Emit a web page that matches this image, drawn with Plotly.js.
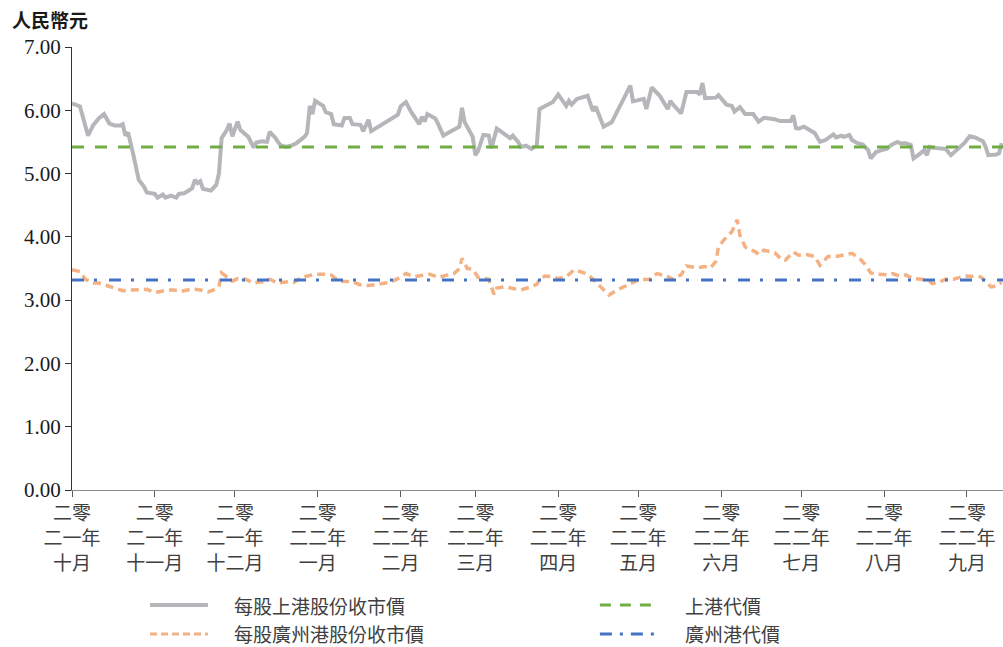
<!DOCTYPE html>
<html>
<head>
<meta charset="utf-8">
<script src="https://cdn.plot.ly/plotly-3.0.1.min.js"></script>
<style>html,body{margin:0;padding:0;background:#fff;}#chart{width:1003px;height:647px;}</style>
</head>
<body>
<div id="chart"></div>
<script>
// ---------- DATA ----------
const seriesNames = ['每股上港股份收市價', '每股廣州港股份收市價', '上港代價', '廣州港代價'];
const yAxisUnit = '人民幣元';

const sipgDates = ['2021-10-01','2021-10-04','2021-10-07','2021-10-09','2021-10-11','2021-10-13','2021-10-15','2021-10-17','2021-10-19','2021-10-20','2021-10-21','2021-10-22','2021-10-24','2021-10-26','2021-10-28','2021-10-29',
'2021-11-01','2021-11-02','2021-11-04','2021-11-05','2021-11-07','2021-11-09','2021-11-10','2021-11-12','2021-11-14','2021-11-15','2021-11-16','2021-11-17','2021-11-18','2021-11-19','2021-11-22','2021-11-24','2021-11-25','2021-11-26','2021-11-28','2021-11-29','2021-11-30',
'2021-12-02','2021-12-03','2021-12-06','2021-12-08','2021-12-09','2021-12-11','2021-12-13','2021-12-14','2021-12-16','2021-12-18','2021-12-20','2021-12-22','2021-12-24','2021-12-27','2021-12-28','2021-12-29','2021-12-30','2021-12-31',
'2022-01-03','2022-01-04','2022-01-06','2022-01-07','2022-01-10','2022-01-11','2022-01-13','2022-01-14','2022-01-17','2022-01-18','2022-01-20','2022-01-21','2022-01-25','2022-01-31',
'2022-02-01','2022-02-03','2022-02-05','2022-02-08','2022-02-09','2022-02-10','2022-02-11','2022-02-14','2022-02-15','2022-02-17','2022-02-19','2022-02-22','2022-02-23','2022-02-24','2022-02-25','2022-02-28',
'2022-03-01','2022-03-02','2022-03-04','2022-03-06','2022-03-07','2022-03-09','2022-03-12','2022-03-14','2022-03-15','2022-03-17','2022-03-18','2022-03-20','2022-03-22','2022-03-24','2022-03-25','2022-03-30',
'2022-04-01','2022-04-03','2022-04-04','2022-04-05','2022-04-06','2022-04-08','2022-04-12','2022-04-14','2022-04-15','2022-04-18','2022-04-21','2022-04-28','2022-04-29',
'2022-05-03','2022-05-04','2022-05-06','2022-05-09','2022-05-12','2022-05-13','2022-05-14','2022-05-17','2022-05-19','2022-05-23','2022-05-24','2022-05-25','2022-05-26','2022-05-30','2022-05-31',
'2022-06-03','2022-06-05','2022-06-06','2022-06-08','2022-06-10','2022-06-13','2022-06-15','2022-06-17','2022-06-20','2022-06-21','2022-06-23','2022-06-27','2022-06-28','2022-06-29','2022-06-30',
'2022-07-02','2022-07-06','2022-07-08','2022-07-10','2022-07-13','2022-07-14','2022-07-16','2022-07-17','2022-07-19','2022-07-20','2022-07-22','2022-07-24','2022-07-26','2022-07-27','2022-07-29','2022-07-31',
'2022-08-02','2022-08-04','2022-08-06','2022-08-07','2022-08-09','2022-08-11','2022-08-12','2022-08-14','2022-08-16','2022-08-17','2022-08-18','2022-08-19','2022-08-21','2022-08-24','2022-08-26','2022-08-28','2022-08-31',
'2022-09-02','2022-09-04','2022-09-07','2022-09-08','2022-09-09','2022-09-12','2022-09-13','2022-09-14'];
const sipgClose = [6.11,6.06,5.60,5.77,5.87,5.94,5.79,5.76,5.76,5.78,5.60,5.65,5.29,4.90,4.79,4.70,
4.68,4.62,4.67,4.62,4.65,4.62,4.68,4.69,4.74,4.77,4.90,4.85,4.88,4.76,4.73,4.82,5.00,5.56,5.69,5.79,5.59,
5.82,5.69,5.58,5.41,5.49,5.51,5.50,5.66,5.57,5.45,5.42,5.44,5.48,5.58,5.64,6.07,5.94,6.15,
6.07,5.97,5.94,5.78,5.76,5.88,5.88,5.78,5.77,5.67,5.85,5.67,5.78,5.93,
6.06,6.13,5.97,5.78,5.90,5.82,5.94,5.87,5.79,5.60,5.65,5.71,5.74,6.04,5.81,5.58,
5.29,5.36,5.61,5.60,5.40,5.71,5.62,5.56,5.60,5.50,5.42,5.44,5.39,5.45,6.02,6.13,
6.25,6.14,6.07,6.15,6.09,6.18,6.23,5.99,6.06,5.74,5.81,6.39,6.14,
6.18,6.02,6.36,6.23,6.02,6.15,6.09,5.95,6.29,6.29,6.25,6.43,6.19,6.20,6.24,
6.09,6.07,5.98,6.05,5.94,5.94,5.82,5.88,5.87,5.86,5.83,5.83,5.92,5.72,5.71,
5.74,5.64,5.50,5.53,5.62,5.57,5.60,5.58,5.61,5.53,5.48,5.46,5.37,5.24,5.34,5.37,
5.39,5.46,5.50,5.48,5.48,5.45,5.24,5.30,5.37,5.29,5.42,5.41,5.40,5.39,5.29,5.36,5.48,
5.59,5.57,5.51,5.42,5.29,5.30,5.32,5.48];

const gzpDates = ['2021-10-01','2021-10-04','2021-10-06','2021-10-09','2021-10-11','2021-10-14','2021-10-17','2021-10-20','2021-10-23','2021-10-26','2021-10-29',
'2021-11-01','2021-11-03','2021-11-06','2021-11-08','2021-11-11','2021-11-13','2021-11-16','2021-11-18','2021-11-21','2021-11-24','2021-11-25','2021-11-26','2021-11-28','2021-11-30',
'2021-12-02','2021-12-05','2021-12-08','2021-12-11','2021-12-14','2021-12-17','2021-12-21','2021-12-23','2021-12-26','2021-12-28','2021-12-31',
'2022-01-03','2022-01-06','2022-01-08','2022-01-10','2022-01-14','2022-01-17','2022-01-20','2022-01-24','2022-01-28','2022-01-31',
'2022-02-03','2022-02-06','2022-02-09','2022-02-12','2022-02-15','2022-02-19','2022-02-21','2022-02-23','2022-02-24','2022-02-26','2022-02-28',
'2022-03-02','2022-03-06','2022-03-08','2022-03-09','2022-03-12','2022-03-15','2022-03-18','2022-03-21','2022-03-24','2022-03-25','2022-03-27','2022-03-30',
'2022-04-01','2022-04-04','2022-04-07','2022-04-10','2022-04-12','2022-04-15','2022-04-18','2022-04-20','2022-04-23','2022-04-27',
'2022-05-01','2022-05-05','2022-05-08','2022-05-12','2022-05-14','2022-05-17','2022-05-19','2022-05-23','2022-05-26','2022-05-28','2022-05-30','2022-05-31',
'2022-06-02','2022-06-05','2022-06-07','2022-06-08','2022-06-10','2022-06-14','2022-06-15','2022-06-17','2022-06-20','2022-06-21','2022-06-24','2022-06-25','2022-06-28','2022-06-30',
'2022-07-03','2022-07-06','2022-07-08','2022-07-11','2022-07-14','2022-07-17','2022-07-20','2022-07-23','2022-07-25','2022-07-27','2022-07-29',
'2022-08-02','2022-08-04','2022-08-07','2022-08-09','2022-08-12','2022-08-15','2022-08-18','2022-08-19','2022-08-22','2022-08-24','2022-08-27','2022-08-30',
'2022-09-01','2022-09-06','2022-09-08','2022-09-10','2022-09-12','2022-09-14'];
const gzpClose = [3.48,3.45,3.33,3.27,3.27,3.23,3.20,3.15,3.16,3.16,3.17,
3.12,3.14,3.16,3.16,3.14,3.16,3.17,3.16,3.13,3.18,3.21,3.43,3.37,3.30,
3.34,3.33,3.27,3.29,3.33,3.27,3.29,3.28,3.36,3.38,3.41,
3.41,3.40,3.33,3.30,3.29,3.24,3.23,3.25,3.28,3.34,
3.42,3.37,3.39,3.41,3.36,3.40,3.42,3.50,3.66,3.50,3.49,
3.36,3.33,3.09,3.19,3.21,3.18,3.16,3.20,3.25,3.33,3.38,3.37,
3.34,3.37,3.48,3.44,3.41,3.29,3.16,3.08,3.16,3.24,
3.32,3.33,3.42,3.37,3.33,3.40,3.54,3.51,3.53,3.51,3.61,3.84,
3.95,4.08,4.27,4.03,3.84,3.76,3.72,3.79,3.77,3.75,3.63,3.63,3.76,3.71,
3.72,3.69,3.55,3.69,3.69,3.71,3.74,3.65,3.56,3.43,3.41,
3.40,3.42,3.38,3.40,3.34,3.33,3.30,3.26,3.29,3.33,3.33,3.37,
3.38,3.37,3.30,3.21,3.22,3.28];

const sipgOffer = 5.42;
const gzpOffer = 3.32;
const periodStart = '2021-10-01';
const periodEnd = '2022-09-14 12:00';

const monthTicks = ['2021-10-01','2021-11-01','2021-12-01','2022-01-01','2022-02-01','2022-03-01','2022-04-01','2022-05-01','2022-06-01','2022-07-01','2022-08-01','2022-09-01'];
const monthLabels = ['二零<br>二一年<br>十月','二零<br>二一年<br>十一月','二零<br>二一年<br>十二月','二零<br>二二年<br>一月','二零<br>二二年<br>二月','二零<br>二二年<br>三月','二零<br>二二年<br>四月','二零<br>二二年<br>五月','二零<br>二二年<br>六月','二零<br>二二年<br>七月','二零<br>二二年<br>八月','二零<br>二二年<br>九月'];
const yTicks = [0,1,2,3,4,5,6,7];

// ---------- STYLE ----------
const C_GREY = '#b4b6b9', C_ORANGE = '#f4b183', C_GREEN = '#70ad47', C_BLUE = '#4472c4';
const DASH_ORANGE = '8px,5px', DASH_GREEN = '12px,11px', DASH_BLUE = '12px,10px,3px,12px';
const SERIF = '"Liberation Serif", "Noto Sans CJK TC", serif';
const CJK = '"Noto Sans CJK TC", "Noto Sans CJK SC", sans-serif';

const traces = [
  {x: sipgDates, y: sipgClose, type: 'scatter', mode: 'lines', name: seriesNames[0],
   line: {color: C_GREY, width: 4}, showlegend: false, hoverinfo: 'skip'},
  {x: gzpDates, y: gzpClose, type: 'scatter', mode: 'lines', name: seriesNames[1],
   line: {color: C_ORANGE, width: 3.5, dash: DASH_ORANGE}, showlegend: false, hoverinfo: 'skip'},
  {x: [periodStart, periodEnd], y: [sipgOffer, sipgOffer], type: 'scatter', mode: 'lines', name: seriesNames[2],
   line: {color: C_GREEN, width: 3, dash: DASH_GREEN}, showlegend: false, hoverinfo: 'skip'},
  {x: [periodStart, periodEnd], y: [gzpOffer, gzpOffer], type: 'scatter', mode: 'lines', name: seriesNames[3],
   line: {color: C_BLUE, width: 3, dash: DASH_BLUE}, showlegend: false, hoverinfo: 'skip'}
];

// manual legend (paper coords)
const L = [
  {x0: 0.0838, x1: 0.146, tx: 0.1719, y: -0.2596, color: C_GREY, width: 4, dash: 'solid', text: seriesNames[0]},
  {x0: 0.0838, x1: 0.146, tx: 0.1719, y: -0.325, color: C_ORANGE, width: 3, dash: '7px,4px', text: seriesNames[1]},
  {x0: 0.567, x1: 0.6295, tx: 0.656, y: -0.2596, color: C_GREEN, width: 3, dash: '11px,9px', text: seriesNames[2]},
  {x0: 0.567, x1: 0.6295, tx: 0.656, y: -0.325, color: C_BLUE, width: 3, dash: '12px,8px,3px,8px', text: seriesNames[3]}
];
const shapes = L.map(l => ({type: 'line', xref: 'paper', yref: 'paper', x0: l.x0, x1: l.x1, y0: l.y, y1: l.y,
  line: {color: l.color, width: l.width, dash: l.dash}}));
const annotations = L.map(l => ({xref: 'paper', yref: 'paper', x: l.tx, y: l.y, xanchor: 'left', yanchor: 'middle',
  text: l.text, showarrow: false, font: {family: CJK, size: 19, color: '#404040'}}));
annotations.push({xref: 'paper', yref: 'paper', x: -0.0666, y: 1.061, xanchor: 'left', yanchor: 'middle',
  text: yAxisUnit, showarrow: false, font: {family: CJK, size: 19, color: '#1a1a1a', weight: 'bold'}});

const layout = {
  width: 1003, height: 647,
  margin: {l: 72, r: 0, t: 47, b: 157},
  paper_bgcolor: '#ffffff', plot_bgcolor: '#ffffff',
  showlegend: false,
  xaxis: {
    type: 'date', range: [periodStart, periodEnd],
    tickmode: 'array', tickvals: monthTicks, ticktext: monthLabels,
    ticks: 'outside', ticklen: 6, tickwidth: 1, tickcolor: '#595959',
    showline: true, linecolor: '#8c8c8c', linewidth: 1.3,
    showgrid: false, zeroline: false,
    tickfont: {family: CJK, size: 19, color: '#404040'}
  },
  yaxis: {
    range: [0, 7], tickmode: 'array', tickvals: yTicks, tickformat: '.2f',
    ticks: 'outside', ticklen: 6, tickwidth: 1, tickcolor: '#333333',
    showline: true, linecolor: '#333333', linewidth: 1,
    showgrid: false, zeroline: false,
    tickfont: {family: SERIF, size: 21, color: '#1a1a1a'}
  },
  shapes: shapes,
  annotations: annotations
};

Plotly.newPlot('chart', traces, layout, {staticPlot: true, displayModeBar: false});
</script>
</body>
</html>
